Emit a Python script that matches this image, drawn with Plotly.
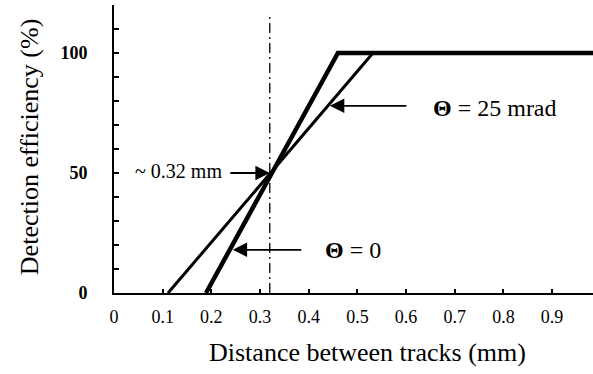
import numpy as np
import plotly.graph_objects as go

# ---- data ----
dist_theta0 = [0.189, 0.46, 1.0]        # Θ = 0 (thick line)
eff_theta0 = [0, 100, 100]
dist_theta25 = [0.111, 0.532, 1.0]      # Θ = 25 mrad (thin line)
eff_theta25 = [0, 100, 100]
crossing_x = 0.32                        # ~0.32 mm at 50 %
crossing_y = 50
x_tick_vals = [0, 0.1, 0.2, 0.3, 0.4, 0.5, 0.6, 0.7, 0.8, 0.9]
x_tick_text = ["0", "0.1", "0.2", "0.3", "0.4", "0.5", "0.6", "0.7", "0.8", "0.9"]
y_tick_vals = [0, 50, 100]
y_tick_text = ["<b>0</b>", "<b>50</b>", "<b>100</b>"]

SERIF = "Liberation Serif, Times New Roman, serif"

fig = go.Figure()
fig.add_trace(go.Scatter(x=dist_theta25, y=eff_theta25, mode="lines",
                         line=dict(color="black", width=3), showlegend=False))
fig.add_trace(go.Scatter(x=dist_theta0, y=eff_theta0, mode="lines",
                         line=dict(color="black", width=4.5), showlegend=False))

# vertical dash-dot line at the crossing
fig.add_shape(type="line", x0=crossing_x, x1=crossing_x, y0=0, y1=116,
              xref="x", yref="y", line=dict(color="black", width=1.3, dash="10px,4px,2px,4px"))

def x_on(dist, eff, y):
    return float(np.interp(y, eff[:2], dist[:2]))

arrow = dict(showarrow=True, arrowhead=2, arrowsize=1.6, arrowwidth=1.8,
             arrowcolor="black", text="", xref="x", yref="y", ay=0)

anns = [
    # ~0.32 mm arrow to crossing point
    dict(x=crossing_x, y=crossing_y, ax=-41, standoff=0, **arrow),
    # Θ = 0 arrow
    dict(x=x_on(dist_theta0, eff_theta0, 18), y=18, ax=73, standoff=3, **arrow),
    # Θ = 25 mrad arrow
    dict(x=x_on(dist_theta25, eff_theta25, 78), y=78, ax=80, standoff=2, **arrow),
    dict(x=0.226, y=51, xref="x", yref="y", text="~ 0.32 mm", showarrow=False,
         xanchor="right", yanchor="middle", font=dict(family=SERIF, size=20, color="black")),
    dict(x=0.43, y=18, xref="x", yref="y", text="<b>Θ</b> = 0", showarrow=False,
         xanchor="left", yanchor="middle", font=dict(family=SERIF, size=24, color="black")),
    dict(x=0.652, y=77, xref="x", yref="y", text="<b>Θ</b> = 25 mrad", showarrow=False,
         xanchor="left", yanchor="middle", font=dict(family=SERIF, size=24, color="black")),
    # axis titles
    dict(x=0.53, y=-0.208, xref="paper", yref="paper", text="Distance between tracks (mm)",
         showarrow=False, xanchor="center", yanchor="middle",
         font=dict(family=SERIF, size=26, color="black")),
    dict(x=-0.175, y=0.507, xref="paper", yref="paper", text="Detection efficiency (%)",
         showarrow=False, xanchor="center", yanchor="middle", textangle=-90,
         font=dict(family=SERIF, size=26, color="black")),
]
fig.update_layout(annotations=anns)

fig.update_xaxes(range=[0, 0.984], showgrid=False, zeroline=False,
                 showline=True, linecolor="black", linewidth=2,
                 ticks="inside", ticklen=4, tickwidth=1.5, tickcolor="black",
                 tickvals=x_tick_vals, ticktext=x_tick_text, ticklabelstandoff=6,
                 tickfont=dict(family=SERIF, size=18, color="black"))
fig.update_yaxes(range=[0, 120], showgrid=False, zeroline=False,
                 showline=True, linecolor="black", linewidth=2,
                 ticks="inside", ticklen=5, tickwidth=1.5, tickcolor="black",
                 tickvals=y_tick_vals, ticktext=y_tick_text, ticklabelstandoff=21,
                 minor=dict(dtick=10, ticks="inside", ticklen=5, tickwidth=1.5, tickcolor="black"),
                 tickfont=dict(family=SERIF, size=18, color="black"))

fig.update_layout(width=593, height=374, margin=dict(l=114, r=0, t=5, b=81),
                  plot_bgcolor="white", paper_bgcolor="white", showlegend=False)

fig.write_html("out.html")
